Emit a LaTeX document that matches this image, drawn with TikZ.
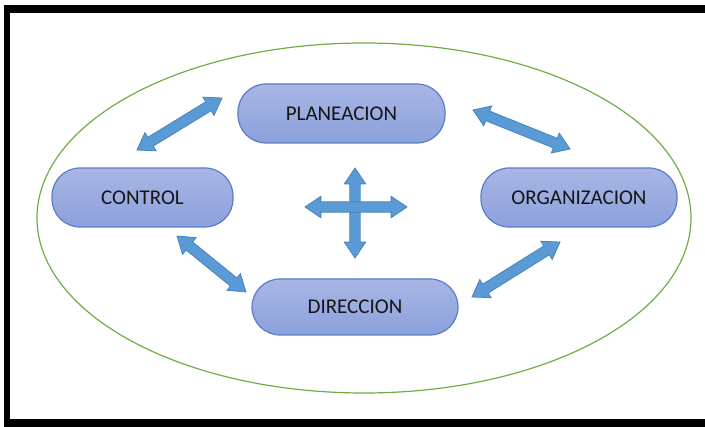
\documentclass[tikz,border=0pt]{standalone}
\usepackage{fontspec}
\setmainfont{Carlito}
\usetikzlibrary{calc,shapes.arrows,shapes.geometric}

\definecolor{ringgreen}{RGB}{112,173,71}
\definecolor{boxtop}{RGB}{168,182,229}
\definecolor{boxbot}{RGB}{140,160,219}
\definecolor{boxline}{RGB}{90,124,200}
\definecolor{arrfill}{RGB}{91,155,213}
\definecolor{arrline}{RGB}{72,132,192}
\definecolor{txt}{RGB}{20,20,20}

\tikzset{
  stage/.style={rectangle, rounded corners=28pt, draw=boxline, line width=1.2pt,
    top color=boxtop, bottom color=boxbot, minimum height=59pt, inner sep=0pt,
    text=txt, font=\fontsize{21}{25}\selectfont},
  dblarr/.style={double arrow, draw=arrline, fill=arrfill, line width=0.8pt,
    inner xsep=0pt, inner ysep=4.8pt, double arrow head extend=5.5pt,
    double arrow tip angle=68, minimum width=20pt}
}

% fat two-headed arrow between two named points
\newcommand\fatarrow[3]{%
  \path let \p1=($(#3)-(#2)$), \n1={atan2(\y1,\x1)}, \n2={veclen(\x1,\y1)} in
    node[dblarr, rotate=\n1, minimum height=\n2] (#1) at ($(#2)!0.5!(#3)$) {};}

\begin{document}
\begin{tikzpicture}[x=1pt, y=-1pt]
\useasboundingbox (0,0) rectangle (705,427);
% frame (open on the right)
\fill[black] (4,5) rectangle (705,13);
\fill[black] (4,5) rectangle (10,427);
\fill[black] (4,419) rectangle (705,427);
% outer ring
\node[draw=ringgreen, line width=1.2pt, ellipse, minimum width=654pt,
  minimum height=350pt, inner sep=0pt] (ring) at (364,218) {};
% the four stages
\node[stage, minimum width=207pt] (plan) at (341.5,113.5) {PLANEACION};
\node[stage, minimum width=181pt] (ctrl) at (142.5,197.5) {CONTROL};
\node[stage, minimum width=196pt] (org) at (579,197.5) {ORGANIZACION};
\node[stage, minimum width=206pt, minimum height=56pt] (dir) at (355,307) {DIRECCION};
% arrow end points
\coordinate (a1) at (137,150);  \coordinate (b1) at (222,98);
\coordinate (a2) at (473,110);  \coordinate (b2) at (570,149);
\coordinate (a3) at (177,236);  \coordinate (b3) at (246,292);
\coordinate (a4) at (472,297);  \coordinate (b4) at (560,242);
\coordinate (hl) at (305,207);  \coordinate (hr) at (407,207);
\coordinate (vt) at (355,168);  \coordinate (vb) at (355,258);
\fatarrow{ctrlplan}{a1}{b1}
\fatarrow{planorg}{a2}{b2}
\fatarrow{ctrldir}{a3}{b3}
\fatarrow{dirorg}{a4}{b4}
\fatarrow{crossv}{vt}{vb}
\fatarrow{crossh}{hl}{hr}
\end{tikzpicture}
\end{document}
